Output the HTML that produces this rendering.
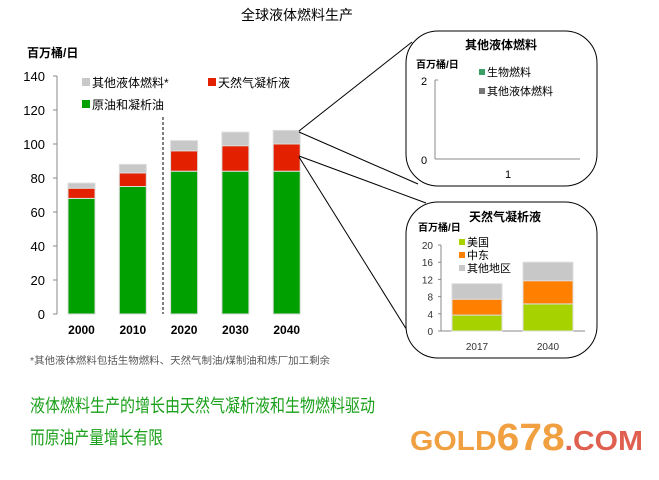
<!DOCTYPE html>
<html><head><meta charset="utf-8"><style>
body{margin:0;background:#fff;width:659px;height:475px;overflow:hidden}
svg{font-family:"Liberation Sans","Noto Sans CJK SC",sans-serif}
</style></head><body>
<svg id="s" width="659" height="475" viewBox="0 0 659 475">
<text x="297" y="20" font-size="14" text-anchor="middle">全球液体燃料生产</text>
<text x="27" y="57" font-size="12" font-weight="bold">百万桶/日</text>
<g id="main"></g>
<line x1="163" y1="117" x2="163" y2="314" stroke="#000" stroke-dasharray="3,2"/>
<rect x="82" y="78" width="8" height="8" fill="#c8c8c8"/>
<text x="92" y="87" font-size="12">其他液体燃料*</text>
<rect x="208" y="78" width="8" height="8" fill="#e32000"/>
<text x="218" y="87" font-size="12">天然气凝析液</text>
<rect x="82" y="100" width="8" height="8" fill="#00a000"/>
<text x="92" y="109" font-size="12">原油和凝析油</text>
<g stroke="#000" stroke-width="1">
<line x1="299" y1="131" x2="412" y2="42"/><line x1="299" y1="132" x2="418" y2="184"/>
<line x1="299" y1="156" x2="426" y2="203"/><line x1="299" y1="157" x2="410" y2="335"/>
</g>
<rect x="406" y="31" width="191" height="155" rx="32" fill="#fff" stroke="#000"/>
<text x="501" y="49" font-size="12" font-weight="bold" text-anchor="middle">其他液体燃料</text>
<text x="416" y="68" font-size="10" font-weight="bold">百万桶/日</text>
<line x1="435" y1="80" x2="435" y2="159" stroke="#888"/>
<line x1="435" y1="159" x2="580" y2="159" stroke="#888"/>
<line x1="435" y1="80" x2="438" y2="80" stroke="#888"/>
<text x="424" y="85" font-size="11" text-anchor="middle">2</text>
<text x="424" y="164" font-size="11" text-anchor="middle">0</text>
<text x="508" y="178" font-size="11" text-anchor="middle">1</text>
<rect x="479" y="69" width="6" height="6" fill="#3aa06a"/>
<text x="487" y="76" font-size="11">生物燃料</text>
<rect x="479" y="88" width="6" height="6" fill="#777"/>
<text x="487" y="95" font-size="11">其他液体燃料</text>
<rect x="406" y="202" width="191" height="156" rx="32" fill="#fff" stroke="#000"/>
<text x="505" y="221" font-size="12" font-weight="bold" text-anchor="middle">天然气凝析液</text>
<text x="418" y="231" font-size="10" font-weight="bold">百万桶/日</text>
<g id="small"></g>
<rect x="459" y="239" width="6" height="6" fill="#a6d200"/>
<text x="467" y="246" font-size="11">美国</text>
<rect x="459" y="252" width="6" height="6" fill="#ff7f00"/>
<text x="467" y="259" font-size="11">中东</text>
<rect x="459" y="265" width="6" height="6" fill="#c8c8c8"/>
<text x="467" y="272" font-size="11">其他地区</text>
<text x="30" y="364" font-size="10" fill="#555" textLength="300" lengthAdjust="spacingAndGlyphs">*其他液体燃料包括生物燃料、天然气制油/煤制油和炼厂加工剩余</text>
<text x="30" y="412" font-size="18" fill="#1aa01a" textLength="345" lengthAdjust="spacingAndGlyphs">液体燃料生产的增长由天然气凝析液和生物燃料驱动</text>
<text x="30" y="444" font-size="18" fill="#1aa01a" textLength="133" lengthAdjust="spacingAndGlyphs">而原油产量增长有限</text>
<text x="410" y="450" font-size="28" font-weight="bold" fill="#f0a040" textLength="233" lengthAdjust="spacingAndGlyphs">GOLD<tspan font-size="38">678</tspan><tspan fill="#e06050">.COM</tspan></text>
</svg>
<script>
const years=["2000","2010","2020","2030","2040"];
const crude=[68,75,84,84,84];
const ngl=[6,8,12,15,16];
const other=[3,5,6,8,8];
const yTicks=[0,20,40,60,80,100,120,140];
const nglYears=["2017","2040"];
const nglUS=[3.7,6.3];
const nglME=[3.7,5.4];
const nglOther=[3.6,4.3];
const nglTicks=[0,4,8,12,16,20];
const NS="http://www.w3.org/2000/svg";
function mk(p,t,a){const e=document.createElementNS(NS,t);for(const k in a)e.setAttribute(k,a[k]);p.appendChild(e);return e;}
const g=document.getElementById('main');
const y=v=>314-v*1.7, x=i=>68+i*51.3;
mk(g,'line',{x1:57,y1:y(140),x2:57,y2:314,stroke:'#888'});
yTicks.forEach(t=>{mk(g,'line',{x1:53,y1:y(t),x2:57,y2:y(t),stroke:'#888'});
 const tx=mk(g,'text',{x:45,y:y(t)+5,'font-size':13,'text-anchor':'end'});tx.textContent=t;
 
 });
years.forEach((yr,i)=>{let b=0;[[crude[i],'#00a000'],[ngl[i],'#e32000'],[other[i],'#c8c8c8']].forEach(([v,c])=>{
 const r=mk(g,'rect',{x:x(i),y:y(b+v),width:27,height:v*1.7,fill:c,stroke:'#ddd','stroke-width':1});
 
 b+=v;});
 const t=mk(g,'text',{x:x(i)+13.5,y:334,'font-size':12,'font-weight':'bold','text-anchor':'middle'});t.textContent=yr;
 
 });
const s=document.getElementById('small');
const sy=v=>331-v*4.3, sx=i=>452+i*71;
mk(s,'line',{x1:441,y1:sy(20),x2:441,y2:331,stroke:'#888'});
mk(s,'line',{x1:441,y1:331,x2:585,y2:331,stroke:'#888'});
nglTicks.forEach(t=>{mk(s,'line',{x1:438,y1:sy(t),x2:441,y2:sy(t),stroke:'#888'});
 const tx=mk(s,'text',{x:433,y:sy(t)+4,'font-size':10,fill:'#333','text-anchor':'end'});tx.textContent=t;
 
 });
nglYears.forEach((yr,i)=>{let b=0;[[nglUS[i],'#a6d200'],[nglME[i],'#ff7f00'],[nglOther[i],'#c8c8c8']].forEach(([v,c])=>{
 const r=mk(s,'rect',{x:sx(i),y:sy(b+v),width:50,height:v*4.3,fill:c,stroke:'#ddd','stroke-width':1});
 
 b+=v;});
 const t=mk(s,'text',{x:sx(i)+25,y:350,'font-size':10,fill:'#333','text-anchor':'middle'});t.textContent=yr;
 
 });
</script>
</body></html>
